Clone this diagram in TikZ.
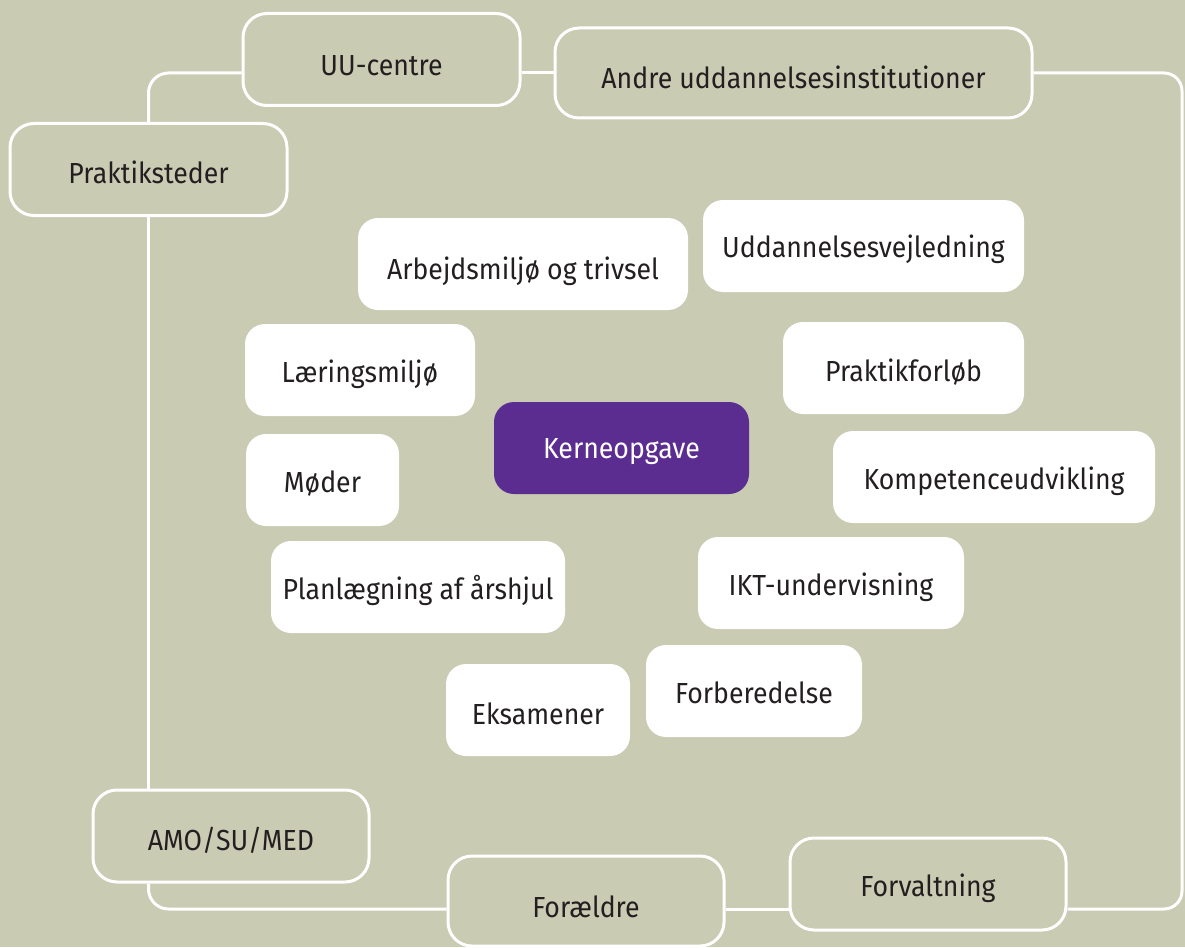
\documentclass[tikz,border=0pt]{standalone}
\usepackage{fontspec}
\setmainfont{Fira Sans}[FakeStretch=0.92]
\definecolor{bg}{HTML}{C9CBB3}
\definecolor{kerne}{HTML}{5C2D91}
\definecolor{txt}{HTML}{231F20}
\newcommand{\dn}[2]{\raisebox{-#1pt}[\height][\depth]{#2}}
\begin{document}
\begin{tikzpicture}[x=1pt,y=-1pt,
  every node/.style={font=\fontsize{29}{33}\selectfont, text=txt, inner sep=0pt},
  outer/.style={draw=white, line width=3pt, fill=bg, rounded corners=24pt, minimum height=92pt},
  inner/.style={fill=white, rounded corners=20pt, minimum height=92pt},
  core/.style={fill=kerne, text=white, rounded corners=20pt, minimum height=92pt},
  conn/.style={draw=white, line width=3pt, rounded corners=20pt}]
\fill[bg] (0,0) rectangle (1185,947);
\useasboundingbox (0,0) rectangle (1185,947);
% outer ring
\node[outer, minimum width=277pt] (uu) at (381.5,59.5) {\dn{6}{UU-centre}};
\node[outer, minimum width=477pt, minimum height=90pt] (andre) at (793.5,73) {\dn{4}{Andre uddannelsesinstitutioner}};
\node[outer, minimum width=277pt] (prak) at (148.5,169.5) {\dn{3}{Praktiksteder}};
\node[outer, minimum width=276pt] (amo) at (231,836) {\dn{4}{AMO/SU/MED}};
\node[outer, minimum width=276pt, minimum height=90pt] (foraeldre) at (586,901) {\dn{6}{Forældre}};
\node[outer, minimum width=276pt] (forv) at (928,884) {\dn{4}{Forvaltning}};
\coordinate (by) at (0,909);
\coordinate (re) at (1182,500);
% connectors
\draw[conn] (uu.east |- andre.west) -- (andre.west);
\draw[conn] (uu.west |- andre.west) -| (prak.north);
\draw[conn] (prak.south) -- (prak.south |- amo.north);
\draw[conn] (prak.south |- amo.south) |- (foraeldre.west |- by);
\draw[conn] (foraeldre.east |- by) -- (forv.west |- by);
\draw[conn, rounded corners=18pt] (forv.east |- by) -- (re |- by) -- (re |- andre.east) -- (andre.east);
% inner tasks
\node[inner, minimum width=330pt] (arb) at (523,264) {\dn{7}{Arbejdsmiljø og trivsel}};
\node[inner, minimum width=321pt] (udd) at (863.5,246) {\dn{3}{Uddannelsesvejledning}};
\node[inner, minimum width=230pt] (laer) at (360,370) {\dn{4}{Læringsmiljø}};
\node[inner, minimum width=241pt] (pforl) at (903.5,368) {\dn{4}{Praktikforløb}};
\node[core, minimum width=255pt] (kerne) at (621.5,448) {\dn{4}{Kerneopgave}};
\node[inner, minimum width=153pt] (moeder) at (322.5,480) {\dn{4}{Møder}};
\node[inner, minimum width=322pt] (komp) at (994,477) {\dn{4}{Kompetenceudvikling}};
\node[inner, minimum width=294pt] (plan) at (418,587) {\dn{3}{Planlægning af årshjul}};
\node[inner, minimum width=266pt] (ikt) at (831,583) {\dn{4}{IKT-undervisning}};
\node[inner, minimum width=184pt] (eks) at (538,710) {\dn{4}{Eksamener}};
\node[inner, minimum width=216pt] (forb) at (754,691) {\dn{2}{Forberedelse}};
\end{tikzpicture}
\end{document}
